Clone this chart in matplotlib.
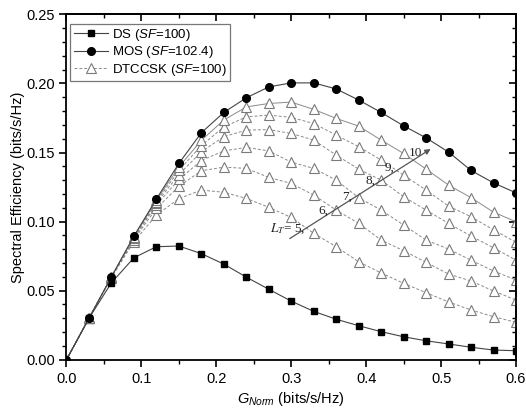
import numpy as np
import matplotlib
matplotlib.use("Agg")
import matplotlib.pyplot as plt
from matplotlib.ticker import MultipleLocator, FormatStrFormatter

plt.rcParams['font.family'] = ['Liberation Sans', 'DejaVu Sans']
plt.rcParams['mathtext.fontset'] = 'custom'
plt.rcParams['mathtext.rm'] = 'Liberation Sans'
plt.rcParams['mathtext.it'] = 'Liberation Sans:italic'

# G_Norm grid
g = [0.0, 0.03, 0.06, 0.09, 0.12, 0.15, 0.18, 0.21, 0.24, 0.27, 0.30,
     0.33, 0.36, 0.39, 0.42, 0.45, 0.48, 0.51, 0.54, 0.57, 0.60]

ds = [0.0, 0.030, 0.0557, 0.0738, 0.0818, 0.0823, 0.0768, 0.0692, 0.0598, 0.051, 0.0424,
      0.035, 0.0293, 0.0246, 0.0203, 0.0166, 0.0137, 0.0114, 0.009, 0.007, 0.0065]

mos = [0.0, 0.030, 0.060, 0.0895, 0.1163, 0.1421, 0.1643, 0.179, 0.1896, 0.1975, 0.2004,
       0.2004, 0.196, 0.188, 0.179, 0.1693, 0.1606, 0.1503, 0.137, 0.128, 0.1208]

# DTCCSK, one list per L_T
dt_L5 = [0.0, 0.030, 0.0595, 0.0855, 0.1047, 0.1166, 0.1228, 0.1212, 0.1168, 0.1103, 0.103,
         0.0915, 0.0818, 0.0709, 0.0628, 0.0553, 0.0485, 0.0418, 0.036, 0.0311, 0.0271]
dt_L6 = [0.0, 0.030, 0.0598, 0.087, 0.1095, 0.1255, 0.1368, 0.1394, 0.1385, 0.132, 0.1276,
         0.1192, 0.1083, 0.0987, 0.0866, 0.0789, 0.0705, 0.062, 0.057, 0.0497, 0.0432]
dt_L7 = [0.0, 0.030, 0.0599, 0.088, 0.112, 0.1305, 0.1442, 0.1512, 0.1537, 0.1512, 0.143,
         0.1385, 0.130, 0.1173, 0.1083, 0.0975, 0.0866, 0.0801, 0.072, 0.0642, 0.0577]
dt_L8 = [0.0, 0.030, 0.060, 0.0885, 0.1135, 0.134, 0.1505, 0.1615, 0.1662, 0.1666, 0.1638,
         0.159, 0.1481, 0.138, 0.130, 0.118, 0.1083, 0.0987, 0.0895, 0.081, 0.0721]
dt_L9 = [0.0, 0.030, 0.060, 0.0888, 0.1145, 0.137, 0.155, 0.1685, 0.1758, 0.1771, 0.1754,
         0.171, 0.1626, 0.1542, 0.1445, 0.1336, 0.1228, 0.1112, 0.1035, 0.094, 0.085]
dt_L10 = [0.0, 0.030, 0.060, 0.089, 0.1155, 0.1395, 0.1588, 0.1735, 0.183, 0.1855, 0.1865,
          0.1812, 0.1747, 0.1691, 0.159, 0.1493, 0.138, 0.1264, 0.1173, 0.1068, 0.0999]
dt_curves = [dt_L5, dt_L6, dt_L7, dt_L8, dt_L9, dt_L10]

lt_labels = ['6,', '7,', '8,', '9,', '10']
lt_label_pos = [(0.336, 0.108), (0.368, 0.118), (0.399, 0.1295), (0.424, 0.139), (0.457, 0.150)]

fig = plt.figure(figsize=(5.26, 4.11), dpi=100)
ax = fig.add_axes([0.1264, 0.1248, 0.981 - 0.1264, 0.965 - 0.1248])

tri_kw = dict(marker='^', markersize=6.5, markerfacecolor='white',
              markeredgecolor='#7a7a7a', markeredgewidth=0.8, color='#8a8a8a', lw=0.7)
for i, y in enumerate(dt_curves):
    ls = '-' if i == len(dt_curves) - 1 else (0, (3, 2))
    ax.plot(g, y, linestyle=ls, **tri_kw)

ax.plot(g, ds, '-', color='#444444', lw=0.8, marker='s', markersize=5,
        markerfacecolor='black', markeredgecolor='black')
ax.plot(g, mos, '-', color='#444444', lw=0.8, marker='o', markersize=5.5,
        markerfacecolor='black', markeredgecolor='black')

# legend handles
h_ds, = ax.plot([], [], '-', color='#444444', lw=0.8, marker='s', markersize=5,
                markerfacecolor='black', markeredgecolor='black')
h_mos, = ax.plot([], [], '-', color='#444444', lw=0.8, marker='o', markersize=5.5,
                 markerfacecolor='black', markeredgecolor='black')
h_dt, = ax.plot([], [], linestyle=(0, (3, 2)), **tri_kw)
leg = ax.legend([h_ds, h_mos, h_dt],
                ['DS ($SF$=100)', 'MOS ($SF$=102.4)', 'DTCCSK ($SF$=100)'],
                loc='upper left', bbox_to_anchor=(0.0, 0.985), fontsize=9.5,
                frameon=True, fancybox=False, handlelength=2.6, handletextpad=0.3,
                borderpad=0.25, labelspacing=0.12, borderaxespad=0.3)
leg.get_frame().set_edgecolor('#555555')
leg.get_frame().set_linewidth(0.9)

# L_T arrow annotation
ax.annotate('', xy=(0.486, 0.1525), xytext=(0.298, 0.0877),
            arrowprops=dict(arrowstyle='-|>', color='#555555', lw=0.9,
                            mutation_scale=8, shrinkA=0, shrinkB=0))
ax.text(0.271, 0.0945, r'$L_T$= 5,', family='Liberation Serif', fontsize=9.5,
        ha='left', va='center', color='#222222',
        math_fontfamily='stix')
for lab, (lx, ly) in zip(lt_labels, lt_label_pos):
    ax.text(lx, ly, lab, family='Liberation Serif', fontsize=9.5,
            ha='left', va='center', color='#222222')

ax.set_xlim(0, 0.6)
ax.set_ylim(0, 0.25)
ax.xaxis.set_major_locator(MultipleLocator(0.1))
ax.xaxis.set_minor_locator(MultipleLocator(0.05))
ax.yaxis.set_major_locator(MultipleLocator(0.05))
ax.yaxis.set_minor_locator(MultipleLocator(0.01))
ax.xaxis.set_major_formatter(FormatStrFormatter('%.1f'))
ax.yaxis.set_major_formatter(FormatStrFormatter('%.2f'))
ax.tick_params(which='both', direction='out', top=False, right=False, labelsize=10.5)
ax.tick_params(which='major', length=5, width=1.2)
ax.tick_params(which='minor', length=3, width=1.0)

# mirrored ticks on top/right pointing inward
ax2 = ax.secondary_xaxis('top')
ax2.xaxis.set_major_locator(MultipleLocator(0.1))
ax2.xaxis.set_minor_locator(MultipleLocator(0.05))
ax2.tick_params(which='both', direction='in', labeltop=False)
ax2.tick_params(which='major', length=5, width=1.2)
ax2.tick_params(which='minor', length=3, width=1.0)
ax3 = ax.secondary_yaxis('right')
ax3.yaxis.set_major_locator(MultipleLocator(0.05))
ax3.yaxis.set_minor_locator(MultipleLocator(0.01))
ax3.tick_params(which='both', direction='in', labelright=False)
ax3.tick_params(which='major', length=5, width=1.2)
ax3.tick_params(which='minor', length=3, width=1.0)

for sp in ax.spines.values():
    sp.set_linewidth(1.3)
for a in (ax2, ax3):
    for sp in a.spines.values():
        sp.set_linewidth(1.3)

ax.set_ylabel('Spectral Efficiency (bits/s/Hz)', fontsize=10.5, labelpad=1)
ax.set_xlabel(r'$G_{Norm}$ (bits/s/Hz)', fontsize=10.5, labelpad=3)

fig.savefig('out.png', dpi=100)
